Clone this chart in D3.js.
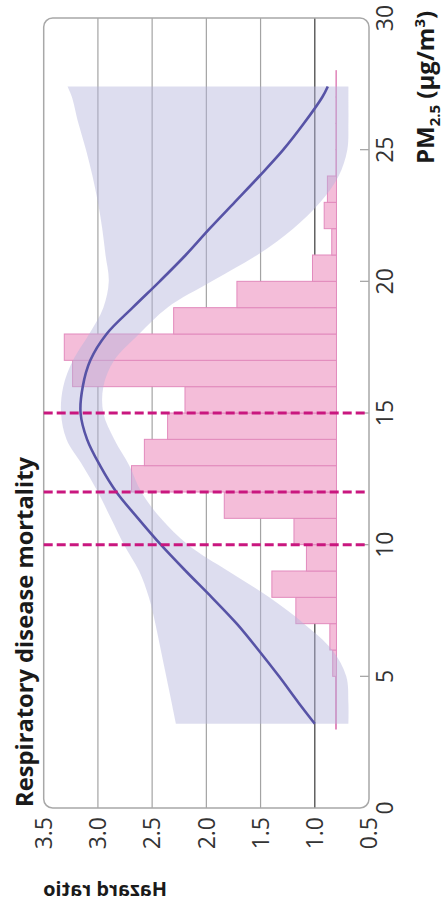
<!DOCTYPE html>
<html>
<head>
<meta charset="utf-8">
<script src="https://cdn.jsdelivr.net/npm/d3@7"></script>
<style>
  html, body { margin: 0; padding: 0; background: #fff; }
  svg { display: block; font-family: "Open Sans", "Noto Sans", sans-serif; }
</style>
</head>
<body>
<svg id="chart" width="444" height="912"></svg>
<script>
// PM2.5 axis (µg/m³) and hazard ratio axis
const pmTicks = [0, 5, 10, 15, 20, 25, 30];
const hrTicks = [0.5, 1.0, 1.5, 2.0, 2.5, 3.0, 3.5];
const hrGrid = [1.5, 2.0, 2.5, 3.0];
const hrReference = 1.0;

// Guideline concentrations (dashed)
const thresholds = [10, 12, 15];

// Exposure–response curve with 95% confidence band
const curvePM = [3.2, 4, 5, 6, 7, 8, 9, 10, 11, 12, 13, 14, 15, 16, 17, 18, 19, 20, 21, 22, 23, 24, 25, 26, 27, 27.4];
const curveHR = [1.00, 1.15, 1.33, 1.52, 1.72, 1.95, 2.19, 2.42, 2.63, 2.83, 2.98, 3.10, 3.16, 3.14, 3.07, 2.92, 2.68, 2.43, 2.19, 1.97, 1.74, 1.51, 1.29, 1.10, 0.93, 0.88];
const ciLower = [0.69, 0.69, 0.71, 0.84, 1.10, 1.42, 1.80, 2.17, 2.42, 2.60, 2.71, 2.85, 2.95, 2.95, 2.85, 2.62, 2.36, 1.95, 1.53, 1.20, 0.95, 0.78, 0.70, 0.69, 0.69, 0.69];
const ciUpper = [2.28, 2.32, 2.37, 2.42, 2.47, 2.53, 2.62, 2.76, 2.88, 3.00, 3.14, 3.29, 3.34, 3.32, 3.23, 3.08, 2.95, 2.90, 2.93, 2.96, 3.00, 3.05, 3.11, 3.18, 3.24, 3.28];

// Population distribution of exposure (% per 1 µg/m³ bin)
const binStart = [3, 4, 5, 6, 7, 8, 9, 10, 11, 12, 13, 14, 15, 16, 17, 18, 19, 20, 21, 22, 23, 24, 25, 26, 27];
const binShare = [0.05, 0.05, 0.2, 0.35, 2.15, 3.42, 1.59, 2.25, 5.94, 10.85, 10.17, 8.94, 8.02, 13.97, 14.41, 8.62, 5.27, 1.27, 0.25, 0.65, 0.48, 0.03, 0.03, 0.03, 0.03];
const binWidth = 1;

const svg = d3.select("#chart");
const W = 912;   // drawing is laid out landscape, then turned a quarter turn

// Landscape coordinates: u along PM2.5, v along hazard ratio
const x = d3.scaleLinear().domain([0, 30]).range([104, 894]);
const y = d3.scaleLinear().domain([0.5, 3.5]).range([369, 43.7]);
const share = d3.scaleLinear().domain([0, 15.5]).range([y(0.8), y(3.5)]);

const g = svg.append("g").attr("transform", `translate(0,${W}) rotate(-90)`);

// Shrink or grow a text's font so it spans the given width
function fitWidth(sel, width) {
  const len = sel.node().getComputedTextLength();
  const fs = parseFloat(sel.attr("font-size"));
  if (len > 0) sel.attr("font-size", (fs * width / len).toFixed(2));
}

// Grid lines
g.append("g").selectAll("line").data(hrGrid).join("line")
  .attr("x1", x(0)).attr("x2", x(30))
  .attr("y1", d => y(d)).attr("y2", d => y(d))
  .attr("stroke", "#a3a3a3").attr("stroke-width", 1.2);
g.append("line")
  .attr("x1", x(0)).attr("x2", x(30))
  .attr("y1", y(hrReference)).attr("y2", y(hrReference))
  .attr("stroke", "#555").attr("stroke-width", 1.4);

// Histogram of exposure
g.append("g").selectAll("rect").data(binStart).join("rect")
  .attr("x", d => x(d))
  .attr("width", d => x(d + binWidth) - x(d))
  .attr("y", (d, i) => share(binShare[i]))
  .attr("height", (d, i) => share(0) - share(binShare[i]))
  .attr("fill", "#f4bdd9")
  .attr("stroke", "#e28abd")
  .attr("stroke-width", 1);

// Confidence band
const pts = curvePM.map((p, i) => ({ p, hr: curveHR[i], lo: ciLower[i], hi: ciUpper[i] }));
const band = d3.area()
  .x(d => x(d.p)).y0(d => y(d.lo)).y1(d => y(d.hi))
  .curve(d3.curveCatmullRom.alpha(0.5));
g.append("path").datum(pts)
  .attr("d", band)
  .attr("fill", "#b3b3dc")
  .attr("fill-opacity", 0.45);

// Hazard ratio curve
const line = d3.line().x(d => x(d.p)).y(d => y(d.hr)).curve(d3.curveCatmullRom.alpha(0.5));
g.append("path").datum(pts)
  .attr("d", line)
  .attr("fill", "none")
  .attr("stroke", "#5753a6")
  .attr("stroke-width", 2.6);

// Frame
g.append("rect")
  .attr("x", x(0)).attr("y", y(3.5))
  .attr("width", x(30) - x(0)).attr("height", y(0.5) - y(3.5))
  .attr("rx", 9).attr("ry", 9)
  .attr("fill", "none").attr("stroke", "#a8a8a8").attr("stroke-width", 1.5);

// PM2.5 ticks and labels
g.append("g").selectAll("line").data(pmTicks.filter(t => t > 0 && t < 30)).join("line")
  .attr("x1", d => x(d)).attr("x2", d => x(d))
  .attr("y1", y(0.5) - 9).attr("y2", y(0.5))
  .attr("stroke", "#a8a8a8").attr("stroke-width", 1.3);
g.append("g").selectAll("text").data(pmTicks).join("text")
  .attr("x", d => x(d)).attr("y", 393)
  .attr("text-anchor", "middle")
  .attr("font-size", 23).attr("fill", "#333")
  .text(d => d);

// Hazard ratio labels
const fmt = d3.format(".1f");
g.append("g").selectAll("text").data(hrTicks).join("text")
  .attr("x", 95).attr("y", d => y(d)).attr("dy", "0.36em")
  .attr("text-anchor", "end")
  .attr("font-size", 23).attr("fill", "#333")
  .text(d => fmt(d));

// Dashed guideline markers
g.append("g").selectAll("line").data(thresholds).join("line")
  .attr("x1", d => x(d)).attr("x2", d => x(d))
  .attr("y1", y(3.5)).attr("y2", y(0.5) - 2)
  .attr("stroke", "#c9177f").attr("stroke-width", 3)
  .attr("stroke-dasharray", "9,4");

// Titles
const title = g.append("text")
  .attr("x", 105).attr("y", 33)
  .attr("font-size", 23.5).attr("font-weight", 700).attr("fill", "#1a1a1a")
  .text("Respiratory disease mortality");
fitWidth(title, 350);

const xt = g.append("text")
  .attr("x", 748).attr("y", 434)
  .attr("font-size", 24).attr("font-weight", 700).attr("fill", "#1a1a1a");
xt.append("tspan").text("PM");
xt.append("tspan").attr("font-size", 15).attr("dy", 6).text("2.5");
xt.append("tspan").attr("dy", -6).text(" (µg/m");
xt.append("tspan").attr("font-size", 15).attr("dy", -9).text("3");
xt.append("tspan").attr("dy", 9).text(")");

const yt = svg.append("text")
  .attr("transform", "translate(167,896) scale(-1,1)")
  .attr("font-size", 20).attr("font-weight", 700).attr("fill", "#1a1a1a")
  .text("Hazard ratio");
fitWidth(yt, 124);
</script>
</body>
</html>
